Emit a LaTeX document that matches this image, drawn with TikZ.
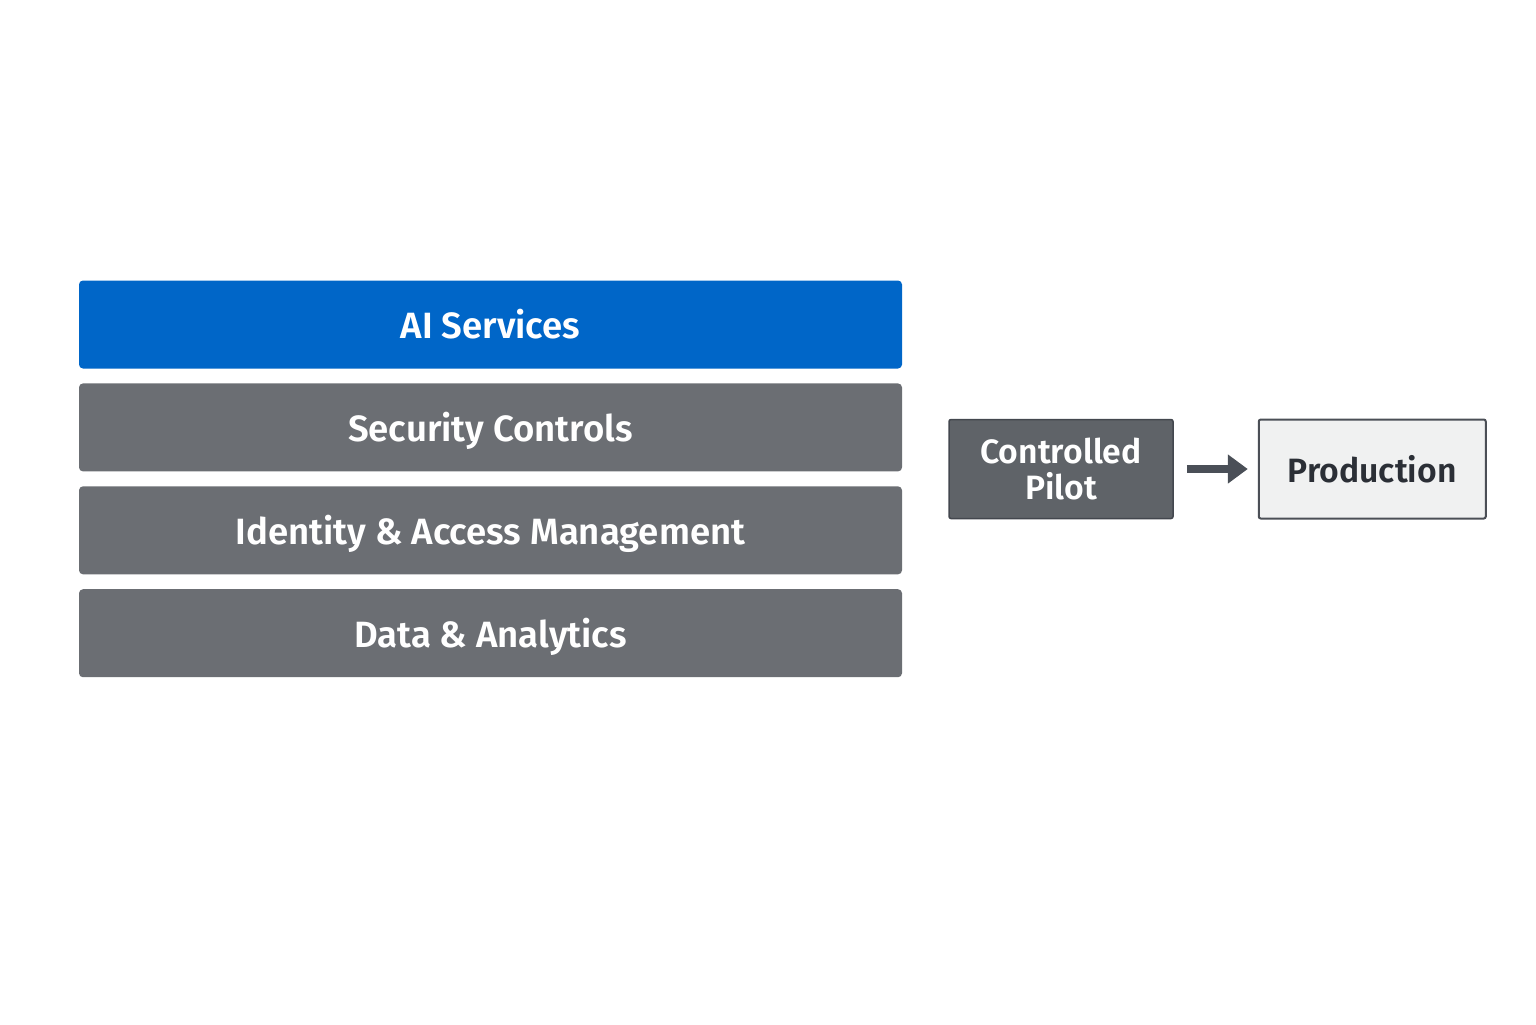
\documentclass[tikz,border=0pt]{standalone}
\usepackage{fontspec}
\setmainfont{Fira Sans}[BoldFont={Fira Sans SemiBold}]
\usetikzlibrary{arrows.meta,
                positioning
            }

\definecolor{aiblue}{HTML}{0066C8}
\definecolor{layergray}{HTML}{6B6E73}
\definecolor{pilotgray}{HTML}{5F6368}
\definecolor{pilotedge}{HTML}{43474E}
\definecolor{prodfill}{HTML}{F0F1F1}
\definecolor{prodedge}{HTML}{4B4F56}
\definecolor{darktext}{HTML}{2B2F36}
\definecolor{arrowgray}{HTML}{4A4F57}

\tikzset{
    layer/.style={fill=layergray, text=white, rounded corners=0.04cm,
                  minimum width=8.23cm, minimum height=0.88cm,
                  text height=0.8em, text depth=0pt,
                  font=\bfseries\fontsize{10.4}{12}\selectfont},
    stage/.style={minimum width=2.25cm, minimum height=0.99cm, align=center,
                  font=\bfseries\fontsize{9.6}{10}\selectfont},
}

\begin{document}
\begin{tikzpicture}
            \useasboundingbox (0, 0) rectangle (15.36, -10.24);
            % the stack of layers
            \node[layer, fill=aiblue] (ai) at (4.905, -3.245) {AI Services};
            \node[layer, below=0.135cm of ai] (security) {Security Controls};
            \node[layer, below=0.135cm of security] (identity) {Identity \& Access Management};
            \node[layer, below=0.135cm of identity] (data) {Data \& Analytics};
            % pilot to production
            \node[stage, fill=pilotgray, draw=pilotedge, line width=0.015cm, text=white,
                  rounded corners=0.02cm, minimum width=2.24cm] (pilot) at (10.61, -4.69) {Controlled\\Pilot};
            \node[stage, fill=prodfill, draw=prodedge, line width=0.02cm, text=darktext,
                  rounded corners=0.02cm, minimum width=2.27cm, right=0.84cm of pilot] (prod) {Production};
            \draw[-{Triangle[length=0.2cm, width=0.28cm]}, line width=0.08cm, arrowgray,
                  shorten <=0.13cm, shorten >=0.1cm] (pilot) -- (prod);
        \end{tikzpicture}
\end{document}
